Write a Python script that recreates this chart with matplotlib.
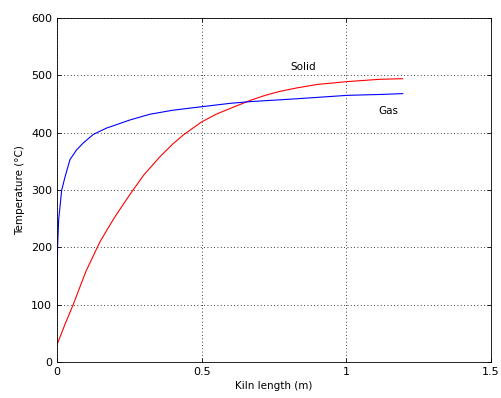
import matplotlib
matplotlib.use("Agg")
import matplotlib.pyplot as plt

plt.rcParams['font.family'] = ['DejaVu Sans']

gas_x = [0, 0.002, 0.006, 0.01, 0.016, 0.028, 0.045, 0.068, 0.091, 0.126, 0.172,
         0.218, 0.252, 0.321, 0.4, 0.498, 0.598, 0.667, 0.829, 1.005, 1.117, 1.195]
gas_y = [85, 200, 250, 268, 299, 323, 353, 370, 382, 397, 408,
         416, 422, 432, 439, 445, 451, 454, 459, 465, 466.5, 468]

solid_x = [0, 0.028, 0.056, 0.1, 0.149, 0.2, 0.252, 0.3, 0.356, 0.4, 0.437, 0.498,
           0.55, 0.598, 0.667, 0.72, 0.771, 0.83, 0.9, 1.005, 1.117, 1.195]
solid_y = [30, 66, 100, 158, 210, 253, 292, 326, 358, 380, 396, 418,
           432, 442, 456, 465, 472, 478, 484, 489, 493, 494]

x_ticks = [0, 0.5, 1, 1.5]
x_ticklabels = ["0", "0.5", "1", "1.5"]
y_ticks = [0, 100, 200, 300, 400, 500, 600]

fig = plt.figure(figsize=(5.02, 3.98), dpi=100)
ax = fig.add_axes([0.1135, 0.0905, 0.8645, 0.8645])

ax.plot(solid_x, solid_y, color='red', lw=0.8)
ax.plot(gas_x, gas_y, color='blue', lw=0.8)

ax.text(0.85, 515, "Solid", fontsize=7.5, ha='center', va='center')
ax.text(1.144, 438, "Gas", fontsize=7.5, ha='center', va='center')

ax.set_xlim(0, 1.5)
ax.set_ylim(0, 600)
ax.set_xticks(x_ticks)
ax.set_xticklabels(x_ticklabels)
ax.set_yticks(y_ticks)
ax.grid(True, color='black', linestyle=(0, (1, 3)), lw=0.6)
ax.tick_params(direction='in', top=True, right=True, labelsize=8, length=3, width=0.6)
for s in ax.spines.values():
    s.set_linewidth(0.6)

ax.set_xlabel("Kiln length (m)", fontsize=7.5, labelpad=3)
ax.set_ylabel("Temperature (°C)", fontsize=7.5, labelpad=4)

fig.savefig("out.png", dpi=100)
